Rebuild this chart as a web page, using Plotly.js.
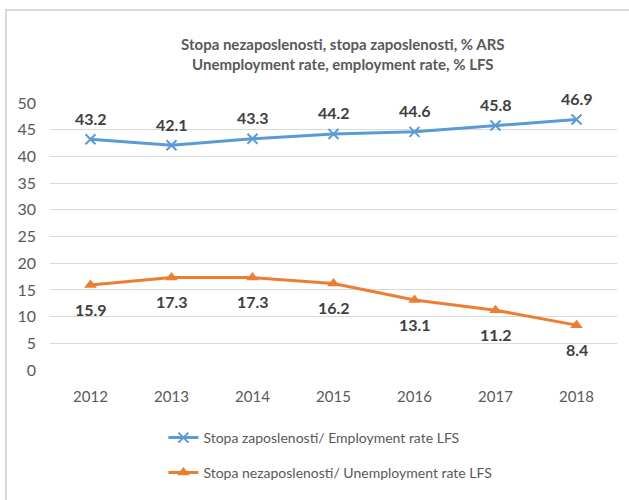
<!DOCTYPE html>
<html><head><meta charset="utf-8">
<script src="https://cdn.plot.ly/plotly-3.0.1.min.js"></script>
<style>
body{margin:0;padding:0;background:#fff;}
#wrap{position:relative;width:629px;height:500px;}
#chart{position:absolute;left:0;top:0;width:629px;height:500px;}
#frame{position:absolute;left:5px;top:9px;width:624px;height:491px;border-top:2px solid #d9d9d9;border-left:2px solid #d9d9d9;pointer-events:none;}
</style></head>
<body><div id="wrap"><div id="chart"></div><div id="frame"></div></div>
<script>
const years = ["2012","2013","2014","2015","2016","2017","2018"];
const employment = [43.2, 42.1, 43.3, 44.2, 44.6, 45.8, 46.9];
const unemployment = [15.9, 17.3, 17.3, 16.2, 13.1, 11.2, 8.4];
const empName = "Stopa zaposlenosti/ Employment rate LFS";
const unempName = "Stopa nezaposlenosti/ Unemployment rate LFS";
const titleLines = ["Stopa nezaposlenosti, stopa zaposlenosti, % ARS", "Unemployment rate, employment rate, % LFS"];

const FONT = 'Lato, "Open Sans", sans-serif';
const traces = [
  {x: years, y: employment, name: empName, type: 'scatter', mode: 'lines+markers',
   line: {color: '#5B9BD5', width: 3}, marker: {symbol: 'x-thin', size: 10, color: '#5B9BD5', line: {color: '#5B9BD5', width: 2}},
   cliponaxis: false, legend: 'legend'},
  {x: years, y: unemployment, name: unempName, type: 'scatter', mode: 'lines+markers',
   line: {color: '#ED7D31', width: 3}, marker: {symbol: 'triangle-up', size: 11, color: '#ED7D31'},
   cliponaxis: false, legend: 'legend2'}
];
const annotations = [];
years.forEach((yr, i) => {
  annotations.push({xref: 'x', yref: 'y', x: i, y: employment[i], text: '<b>' + employment[i].toFixed(1) + '</b>', showarrow: false,
    xanchor: 'center', yanchor: 'middle', yshift: 21, font: {family: FONT, size: 16, color: '#404040'}});
  annotations.push({xref: 'x', yref: 'y', x: i, y: unemployment[i], text: '<b>' + unemployment[i].toFixed(1) + '</b>', showarrow: false,
    xanchor: 'center', yanchor: 'middle', yshift: -24, font: {family: FONT, size: 16, color: '#404040'}});
});
const layout = {
  width: 629, height: 500,
  margin: {l: 50, r: 12, t: 103, b: 129},
  paper_bgcolor: 'rgba(0,0,0,0)', plot_bgcolor: 'rgba(0,0,0,0)',
  font: {family: FONT, color: '#595959', size: 15},
  title: {text: '<b>' + titleLines.join('<br>') + '</b>', x: 0.545, xanchor: 'center', y: 0.9, yanchor: 'middle',
          font: {family: FONT, size: 15, color: '#595959'}},
  xaxis: {type: 'category', range: [-0.5, 6.5], showgrid: false, zeroline: false, showline: false,
          ticks: '', tickfont: {size: 15, color: '#595959'}, ticklabelstandoff: 16, fixedrange: true},
  yaxis: {range: [0, 50], dtick: 5, showgrid: true, gridcolor: '#d9d9d9', gridwidth: 1, zeroline: false,
          showline: false, ticks: '', tickfont: {size: 16, color: '#595959'}, ticklabelstandoff: 13, fixedrange: true},
  annotations: annotations,
  showlegend: true,
  legend: {x: 0.2, xanchor: 'left', y: -0.25, yanchor: 'middle', font: {size: 14, color: '#595959'}, bgcolor: 'rgba(0,0,0,0)'},
  legend2: {x: 0.2, xanchor: 'left', y: -0.38, yanchor: 'middle', font: {size: 14, color: '#595959'}, bgcolor: 'rgba(0,0,0,0)'}
};
Plotly.newPlot('chart', traces, layout, {displayModeBar: false, staticPlot: true});
</script></body></html>
